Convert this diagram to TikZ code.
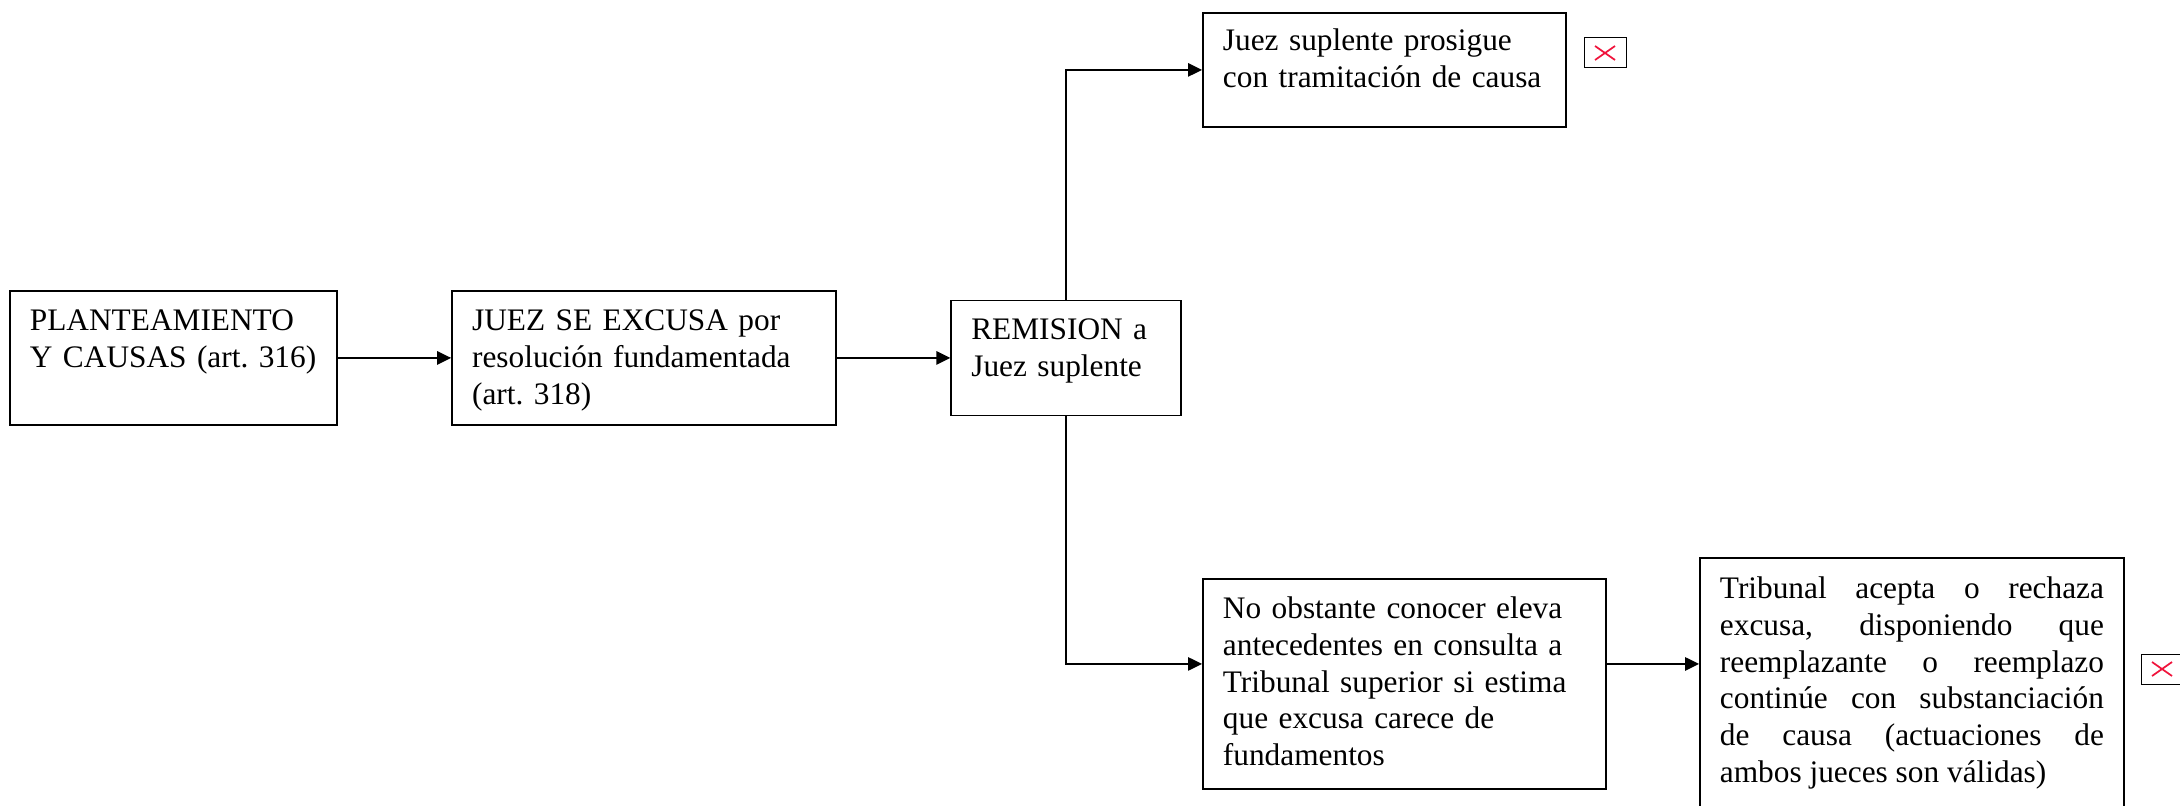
\documentclass[tikz,border=0pt]{standalone}
\usepackage{fontspec}
\setmainfont{Liberation Serif}
\usepackage{tikz}
\usetikzlibrary{arrows.meta}
\usetikzlibrary{positioning}
\definecolor{xred}{RGB}{240,20,60}
\def\boxgap{85pt}
\frenchspacing
\tikzset{
  stepbox/.style={draw,line width=1.4pt,anchor=north west,inner xsep=15pt,inner ysep=0pt,
    text height=30pt,align=left,font=\fontsize{23.5pt}{27.5pt}\selectfont},
  connect arrow/.style={-{Triangle[length=10.5pt,width=10pt]},line width=1.4pt},
  xbox/.style={draw,line width=0.75pt,minimum width=31.5pt,minimum height=22.5pt,inner sep=0pt,
    path picture={
      \draw[xred,line width=1.3pt]
        ([shift={(-7.5pt,-5.25pt)}]path picture bounding box.center) -- ([shift={(7.5pt,5.25pt)}]path picture bounding box.center)
        ([shift={(-7.5pt,5.25pt)}]path picture bounding box.center) -- ([shift={(7.5pt,-5.25pt)}]path picture bounding box.center);
    }}
}

\begin{document}
\begin{tikzpicture}[x=0.75pt,y=-0.75pt]
  \useasboundingbox (0,0) rectangle (2180,806);

  \node[stepbox,text width=215.25pt,text depth=70.5pt] (plant) at (9,290)
    {PLANTEAMIENTO\\Y CAUSAS (art. 316)};
  \node[stepbox,anchor=west,text width=258pt,text depth=70.5pt,right=\boxgap of plant] (excusa)
    {JUEZ SE EXCUSA por\\resolución fundamentada\\(art. 318)};
  \node[stepbox,anchor=west,text width=142.5pt,text height=29.25pt,text depth=57pt,right=\boxgap of excusa] (remision)
    {REMISION a\\Juez suplente};

  \node[stepbox,text width=242.25pt,text height=28.5pt,text depth=57pt] (prosigue) at (1202,12)
    {Juez suplente prosigue\\con tramitación de causa};
  \node[stepbox,text width=272.25pt,text depth=127.5pt] (consulta) at (1202,578)
    {No obstante conocer eleva\\antecedentes en consulta a\\Tribunal superior si estima\\que excusa carece de\\fundamentos};
  \node[stepbox,align=justify,text width=288pt,text height=30.75pt,text depth=160.5pt] (tribunal) at (1699,557)
    {\tolerance=10000 Tribunal acepta o rechaza\linebreak excusa, disponiendo que\linebreak
     reemplazante o reemplazo\linebreak continúe con substanciación\linebreak
     de causa (actuaciones de\linebreak ambos jueces son válidas)};

  % missing pictures
  \node[xbox] (img1) at (1605,53) {};
  \node[xbox] (img2) at (2162,669) {};

  \draw[connect arrow] (plant) -- (excusa);
  \draw[connect arrow] (excusa) -- (remision);
  \draw[connect arrow] (remision) |- (prosigue);
  \draw[connect arrow] (remision) |- ([yshift=15pt]consulta.west);
  \draw[connect arrow] ([yshift=15pt]consulta.east) -- ([yshift=15pt]consulta.east -| tribunal.west);
\end{tikzpicture}
\end{document}
